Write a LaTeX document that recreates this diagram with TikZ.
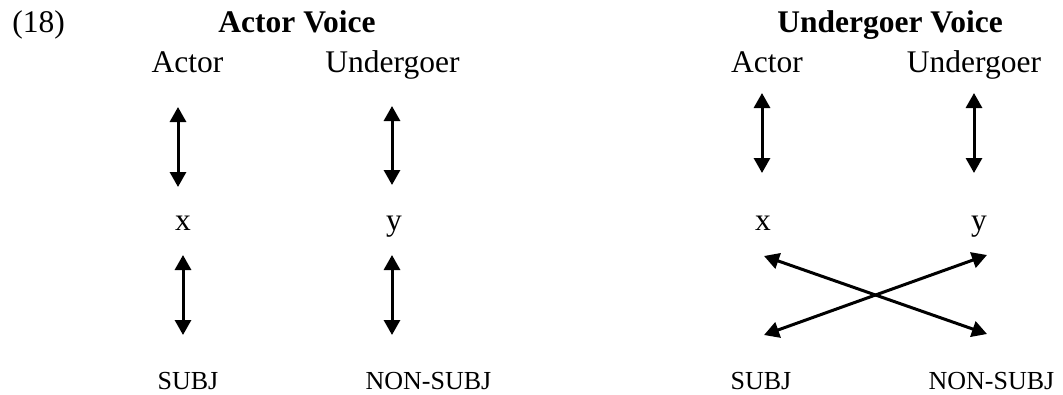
\documentclass[tikz,border=0pt]{standalone}
\usepackage{fontspec}
\setmainfont{Liberation Serif}
\usetikzlibrary{arrows.meta}
\begin{document}
\begin{tikzpicture}[x=1pt,y=-1pt,
  big/.style={font=\fontsize{31.5}{36}\selectfont, inner sep=0pt, anchor=base},
  head/.style={big, font=\fontsize{31.5}{36}\selectfont\bfseries},
  small/.style={font=\fontsize{26}{30}\selectfont, inner sep=0pt, anchor=base},
  link/.style={line width=3pt,
    {Triangle[width=16pt,length=15pt]}-{Triangle[width=16pt,length=15pt]}}]
\useasboundingbox (0,0) rectangle (1063,394);

% example number and panel titles
\node[big]  (num)     at (38.5,32) {(18)};
\node[head] (avtitle) at (297,32)  {Actor Voice};
\node[head] (uvtitle) at (890,32)  {Undergoer Voice};

% Actor Voice panel
\node[big]   (a1) at (187.5,72.5) {Actor};
\node[big]   (u1) at (392.5,72.5) {Undergoer};
\node[big]   (x1) at (183,230)    {x};
\node[big]   (y1) at (394,230)    {y};
\node[small] (s1) at (188,389)    {SUBJ};
\node[small] (n1) at (428.5,389)  {NON-SUBJ};

\coordinate (a1t) at (178,107); \coordinate (a1b) at (178,187);
\coordinate (u1t) at (392,106); \coordinate (u1b) at (392,185);
\coordinate (x1t) at (183,255); \coordinate (x1b) at (183,335);
\coordinate (y1t) at (392,255); \coordinate (y1b) at (392,335);
\draw[link] (a1t) -- (a1b);
\draw[link] (u1t) -- (u1b);
\draw[link] (x1t) -- (x1b);
\draw[link] (y1t) -- (y1b);

% Undergoer Voice panel
\node[big]   (a2) at (767,72.5)   {Actor};
\node[big]   (u2) at (974,72.5)   {Undergoer};
\node[big]   (x2) at (763,230)    {x};
\node[big]   (y2) at (979,230)    {y};
\node[small] (s2) at (761,389)    {SUBJ};
\node[small] (n2) at (991.5,389)  {NON-SUBJ};

\coordinate (a2t) at (762,93);  \coordinate (a2b) at (762,173);
\coordinate (u2t) at (974,93);  \coordinate (u2b) at (974,173);
\coordinate (x2t) at (764,256); \coordinate (n2t) at (987,334);
\coordinate (s2t) at (764,335); \coordinate (y2t) at (987,255);
\draw[link] (a2t) -- (a2b);
\draw[link] (u2t) -- (u2b);
\draw[link] (x2t) -- (n2t);
\draw[link] (s2t) -- (y2t);
\end{tikzpicture}
\end{document}
